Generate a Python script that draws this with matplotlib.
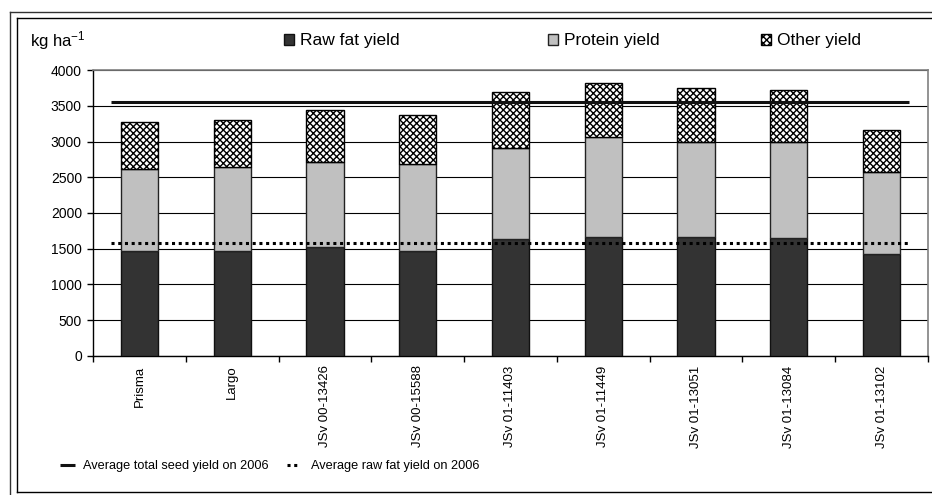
import numpy as np
import matplotlib.pyplot as plt
from matplotlib.lines import Line2D
from matplotlib import font_manager

plt.rcParams['font.family'] = ['Liberation Sans', 'DejaVu Sans']
plt.rcParams['mathtext.default'] = 'regular'
plt.rcParams['hatch.linewidth'] = 1.0

varieties = ["Prisma", "Largo", "JSv 00-13426", "JSv 00-15588", "JSv 01-11403",
             "JSv 01-11449", "JSv 01-13051", "JSv 01-13084", "JSv 01-13102"]
raw_fat = [1472, 1472, 1528, 1472, 1636, 1668, 1668, 1654, 1421]
protein = [1145, 1178, 1192, 1210, 1271, 1402, 1332, 1346, 1149]
other = [654, 654, 724, 697, 785, 748, 748, 724, 594]
avg_total_2006 = 3551
avg_fat_2006 = 1579

# narrow face for the bottom legend if it is there
names = {f.name for f in font_manager.fontManager.ttflist}
if "Liberation Sans Narrow" in names:
    low_font, low_size = "Liberation Sans Narrow", 11
else:
    low_font, low_size = "Liberation Sans", 9.2

fig = plt.figure(figsize=(9.32, 4.95), dpi=100)
ax = fig.add_axes([93 / 932, 1 - 355.7 / 495, (928 - 93) / 932, (355.7 - 70.3) / 495])

x = np.arange(len(varieties))
w = 0.4
fat_arr = np.array(raw_fat)
prot_arr = np.array(protein)

b1 = ax.bar(x, raw_fat, w, color="#333333", edgecolor="#111111", linewidth=1, zorder=3)
b2 = ax.bar(x, protein, w, bottom=fat_arr, color="#c0c0c0", edgecolor="#222222",
            linewidth=1, zorder=3)
b3 = ax.bar(x, other, w, bottom=fat_arr + prot_arr, color="white", edgecolor="black",
            hatch="xxxxx", linewidth=1, zorder=3)

l1, = ax.plot([-0.31, len(varieties) - 1 + 0.29], [avg_total_2006] * 2, color="#111111",
              lw=2.2, zorder=4, solid_capstyle="butt")
l2, = ax.plot([-0.31, len(varieties) - 1 + 0.31], [avg_fat_2006] * 2, color="black",
              lw=2.2, ls=(0, (1, 1.2)), zorder=4)

ax.set_xlim(-0.5, len(varieties) - 0.5)
ax.set_ylim(0, 4000)
ax.set_yticks(np.arange(0, 4001, 500))
ax.yaxis.grid(True, color="black", lw=0.8, zorder=0)
ax.set_axisbelow(True)
ax.tick_params(axis="y", direction="out", length=4, width=1, pad=4, labelsize=10)
ax.set_xticks(x)
ax.set_xticklabels(varieties, rotation=90, fontsize=9.5)
ax.tick_params(axis="x", which="major", length=0, pad=7)
ax.set_xticks(np.arange(-0.5, len(varieties)), minor=True)
ax.tick_params(axis="x", which="minor", direction="out", length=4, width=1)
for s in ["top", "right"]:
    ax.spines[s].set_color("#808080")
    ax.spines[s].set_linewidth(1.2)
for s in ["left", "bottom"]:
    ax.spines[s].set_color("black")
    ax.spines[s].set_linewidth(1.0)

# top legend entries
fig.text(30 / 932, 1 - 41 / 495, "kg ha$^{-1}$", fontsize=12, va="center")
for h, lab, xp in [(b1, "Raw fat yield", 284), (b2, "Protein yield", 548), (b3, "Other yield", 761)]:
    fig.legend([h], [lab], loc="center left", bbox_to_anchor=(xp / 932, 1 - 41 / 495),
               frameon=False, fontsize=12.5, handlelength=0.6, handleheight=0.6,
               handletextpad=0.3, borderaxespad=0, borderpad=0)

# bottom legend entries
leg_font = {"family": low_font, "size": low_size}
fig.legend([l1], ["Average total seed yield on 2006"], loc="center left",
           bbox_to_anchor=(60 / 932, 1 - 466 / 495), frameon=False, prop=leg_font,
           handlelength=1.2, handletextpad=0.6, borderaxespad=0, borderpad=0)
fig.legend([l2], ["Average raw fat yield on 2006"], loc="center left",
           bbox_to_anchor=(287 / 932, 1 - 466 / 495), frameon=False, prop=leg_font,
           handlelength=1.0, handletextpad=0.9, borderaxespad=0, borderpad=0)

# double frame around the chart
def px_line(x0, y0, x1, y1, color, lw=1.0):
    fig.add_artist(Line2D([x0 / 932, x1 / 932], [1 - y0 / 495, 1 - y1 / 495],
                          transform=fig.transFigure, color=color, lw=lw))

px_line(10, 12, 10, 495, "#333333")
px_line(10, 12, 932, 12, "#333333")
px_line(17, 18, 17, 492, "black")
px_line(17, 18, 932, 18, "black")
px_line(17, 492, 932, 492, "black")

fig.savefig("out.png", dpi=100)
